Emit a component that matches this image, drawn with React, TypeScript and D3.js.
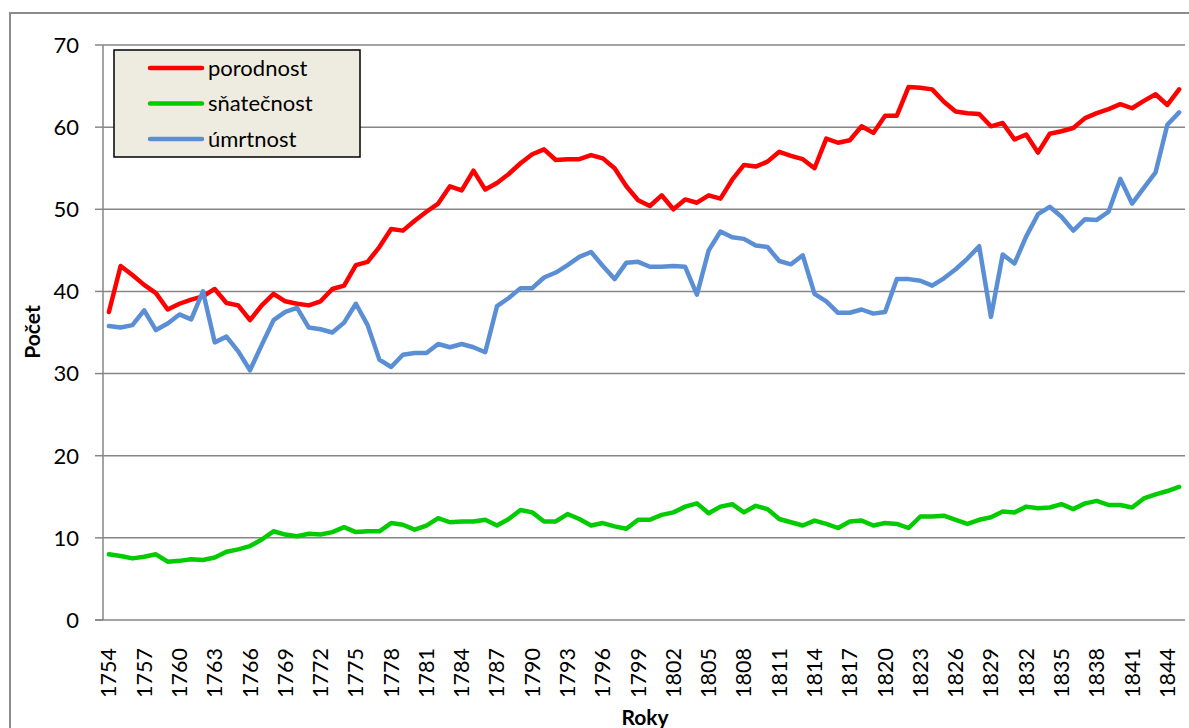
import React from "react";
import * as d3 from "d3";

// years on the category axis
const years = d3.range(1754, 1846);

const porodnost = [
  37.5, 43.1, 42.0, 40.8, 39.8, 37.8, 38.5, 39.0, 39.4, 40.3,
  38.6, 38.3, 36.5, 38.3, 39.7, 38.8, 38.5, 38.3, 38.8, 40.3,
  40.7, 43.2, 43.6, 45.4, 47.6, 47.4, 48.6, 49.7, 50.7, 52.8,
  52.3, 54.7, 52.4, 53.2, 54.3, 55.6, 56.7, 57.3, 56.0, 56.1,
  56.1, 56.6, 56.2, 55.0, 52.8, 51.1, 50.4, 51.7, 50.0, 51.2,
  50.8, 51.7, 51.3, 53.6, 55.4, 55.2, 55.8, 57.0, 56.5, 56.1,
  55.0, 58.6, 58.1, 58.4, 60.1, 59.3, 61.4, 61.4, 64.9, 64.8,
  64.6, 63.1, 61.9, 61.7, 61.6, 60.1, 60.5, 58.5, 59.1, 56.9,
  59.2, 59.5, 59.9, 61.1, 61.7, 62.2, 62.8, 62.3, 63.2, 64.0,
  62.7, 64.6,
];

const snatecnost = [
  8.0, 7.8, 7.5, 7.7, 8.0, 7.1, 7.2, 7.4, 7.3, 7.6,
  8.3, 8.6, 9.0, 9.8, 10.8, 10.4, 10.2, 10.5, 10.4, 10.7,
  11.3, 10.7, 10.8, 10.8, 11.8, 11.6, 11.0, 11.5, 12.4, 11.9,
  12.0, 12.0, 12.2, 11.5, 12.3, 13.4, 13.1, 12.0, 12.0, 12.9,
  12.3, 11.5, 11.8, 11.4, 11.1, 12.2, 12.2, 12.8, 13.1, 13.8,
  14.2, 13.0, 13.8, 14.1, 13.1, 13.9, 13.5, 12.3, 11.9, 11.5,
  12.1, 11.7, 11.2, 12.0, 12.1, 11.5, 11.8, 11.7, 11.2, 12.6,
  12.6, 12.7, 12.2, 11.7, 12.2, 12.5, 13.2, 13.1, 13.8, 13.6,
  13.7, 14.1, 13.5, 14.2, 14.5, 14.0, 14.0, 13.7, 14.8, 15.3,
  15.7, 16.2,
];

const umrtnost = [
  35.8, 35.6, 35.9, 37.7, 35.3, 36.1, 37.2, 36.6, 40.0, 33.8,
  34.5, 32.7, 30.4, 33.5, 36.5, 37.5, 38.0, 35.6, 35.4, 35.0,
  36.2, 38.5, 35.9, 31.7, 30.8, 32.3, 32.5, 32.5, 33.6, 33.2,
  33.6, 33.2, 32.6, 38.2, 39.2, 40.4, 40.4, 41.7, 42.3, 43.2,
  44.2, 44.8, 43.1, 41.5, 43.5, 43.6, 43.0, 43.0, 43.1, 43.0,
  39.6, 45.0, 47.3, 46.6, 46.4, 45.6, 45.4, 43.7, 43.3, 44.4,
  39.7, 38.8, 37.4, 37.4, 37.8, 37.3, 37.5, 41.5, 41.5, 41.3,
  40.7, 41.6, 42.7, 44.0, 45.5, 36.9, 44.5, 43.4, 46.7, 49.4,
  50.3, 49.1, 47.4, 48.8, 48.7, 49.7, 53.7, 50.7, 52.6, 54.5,
  60.3, 61.8,
];

const yTicks = [0, 10, 20, 30, 40, 50, 60, 70];

const series = [
  { name: "porodnost", values: porodnost, color: "#ff0000" },
  { name: "sňatečnost", values: snatecnost, color: "#00cc00" },
  { name: "úmrtnost", values: umrtnost, color: "#5a8fd6" },
];

const font = "Lato, 'Open Sans', sans-serif";

export default function App() {
  const width = 1189;
  const height = 728;
  const left = 103;
  const right = 1185;
  const top = 45;
  const bottom = 620;

  const x = d3.scaleBand<number>().domain(years).range([left, right]);
  const y = d3.scaleLinear().domain([0, 70]).range([bottom, top]);
  const cx = (yr: number) => (x(yr) as number) + x.bandwidth() / 2;

  const line = (vals: number[]) =>
    d3
      .line<number>()
      .x((_, i) => cx(years[i]))
      .y((d) => y(d))(vals) as string;

  const labelYears = years.filter((yr) => (yr - 1754) % 3 === 0);

  return (
    <svg
      width={width}
      height={height}
      style={{ position: "absolute", left: 0, top: 0, background: "#fff" }}
      fontFamily={font}
    >
      {/* chart frame */}
      <rect x={10} y={13} width={1200} height={740} fill="#fff" stroke="#8c8c8c" strokeWidth={2} />

      {/* gridlines */}
      {yTicks.slice(1).map((t) => (
        <line key={t} x1={left} x2={right} y1={y(t)} y2={y(t)} stroke="#868686" strokeWidth={1.5} />
      ))}

      {/* y axis */}
      <line x1={left} x2={left} y1={top} y2={bottom} stroke="#868686" strokeWidth={1.5} />
      {yTicks.map((t) => (
        <g key={t}>
          <line x1={95} x2={left} y1={y(t)} y2={y(t)} stroke="#868686" strokeWidth={1.5} />
          <text x={79} y={y(t)} dy="0.36em" textAnchor="end" fontSize={22} fill="#000">
            {t}
          </text>
        </g>
      ))}

      {/* x axis */}
      <line x1={95} x2={right} y1={bottom} y2={bottom} stroke="#868686" strokeWidth={1.5} />
      {labelYears.map((yr) => (
        <text
          key={yr}
          transform={`translate(${cx(yr) + 7.5},${648}) rotate(-90)`}
          textAnchor="end"
          fontSize={21.5}
          fill="#000"
        >
          {yr}
        </text>
      ))}

      {/* series */}
      {series.map((s) => (
        <path
          key={s.name}
          d={line(s.values)}
          fill="none"
          stroke={s.color}
          strokeWidth={4.5}
          strokeLinejoin="round"
          strokeLinecap="round"
        />
      ))}

      {/* axis titles */}
      <text
        transform={`translate(40,332) rotate(-90)`}
        textAnchor="middle"
        fontSize={21}
        fontWeight="bold"
      >
        Počet
      </text>
      <text x={645} y={725} textAnchor="middle" fontSize={21} fontWeight="bold">
        Roky
      </text>

      {/* legend */}
      <rect x={114} y={50} width={246} height={107} fill="#eeece1" stroke="#000" strokeWidth={1.5} />
      {series.map((s, i) => (
        <g key={s.name} transform={`translate(0,${68 + i * 35.5})`}>
          <line x1={150} x2={202} y1={0} y2={0} stroke={s.color} strokeWidth={4.5} strokeLinecap="round" />
          <text x={208} y={0} dy="0.35em" fontSize={22} fill="#000">
            {s.name}
          </text>
        </g>
      ))}
    </svg>
  );
}
